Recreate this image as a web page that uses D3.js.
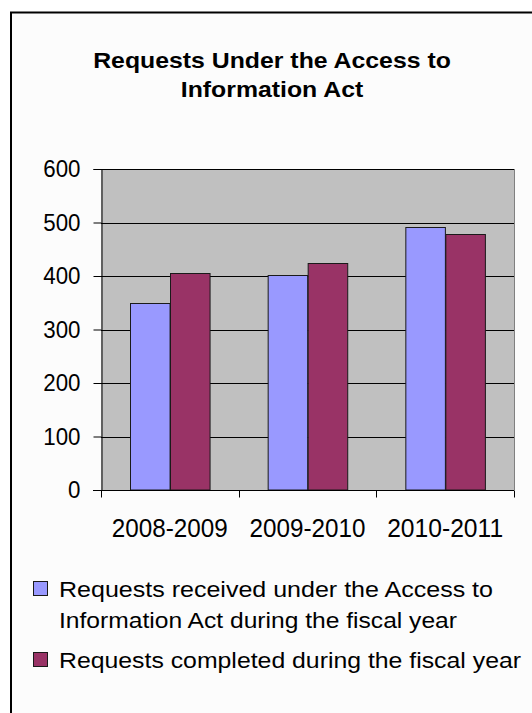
<!DOCTYPE html>
<html><head><meta charset="utf-8">
<script src="https://cdn.jsdelivr.net/npm/d3@7/dist/d3.min.js"></script>
<style>
html,body{margin:0;padding:0;background:#fff;}
svg{display:block;}
text{font-family:"Liberation Sans",Arial,sans-serif;fill:#000;}
</style></head>
<body>
<script>
const categories = ["2008-2009", "2009-2010", "2010-2011"];
const seriesNames = ["Requests received under the Access to Information Act during the fiscal year",
                     "Requests completed during the fiscal year"];
const received = [349, 401, 492];
const completed = [406, 424, 479];
const yTicks = [0, 100, 200, 300, 400, 500, 600];
const titleLines = ["Requests Under the Access to", "Information Act"];
const legendLines = [["Requests received under the Access to", "Information Act during the fiscal year"],
                     ["Requests completed during the fiscal year"]];

const W = 532, H = 713;
const colors = ["#9999ff", "#993366"];
const svg = d3.select("body").append("svg").attr("width", W).attr("height", H);

// chart frame
svg.append("rect").attr("x", 11).attr("y", 12.5).attr("width", 560).attr("height", 760)
  .attr("fill", "#fcfcfc").attr("stroke", "#000").attr("stroke-width", 2);

// title
const titleY = [68, 97];
titleLines.forEach((t, i) => {
  const tx = svg.append("text").attr("x", 272).attr("y", titleY[i]).attr("text-anchor", "middle")
    .attr("font-size", 22).attr("font-weight", "bold").text(t);
  const n = tx.node().getComputedTextLength();
  tx.attr("textLength", n * 1.128).attr("lengthAdjust", "spacingAndGlyphs");
});

const plot = {left: 101, top: 169, right: 514, bottom: 490};
const y = d3.scaleLinear().domain([0, 600]).range([plot.bottom, plot.top]);
const x0 = d3.scaleBand().domain(categories).range([plot.left, plot.right]).padding(0);
const x1 = d3.scaleBand().domain([0, 1]).range([0, x0.bandwidth()]).paddingInner(0).paddingOuter(0.74);

// plot background
svg.append("rect").attr("x", plot.left).attr("y", plot.top)
  .attr("width", plot.right - plot.left).attr("height", plot.bottom - plot.top)
  .attr("fill", "#c0c0c0");
svg.append("line").attr("x1", plot.right + 0.5).attr("x2", plot.right + 0.5)
  .attr("y1", plot.top).attr("y2", plot.bottom).attr("stroke", "#808080");

// gridlines
svg.append("g").selectAll("line").data(yTicks.filter(d => d > 0)).join("line")
  .attr("x1", plot.left).attr("x2", plot.right)
  .attr("y1", d => Math.round(y(d)) + 0.5).attr("y2", d => Math.round(y(d)) + 0.5)
  .attr("stroke", "#000").attr("stroke-width", 1);

// bars
const data = categories.map((c, i) => ({c, vals: [received[i], completed[i]]}));
svg.append("g").selectAll("g").data(data).join("g")
  .attr("transform", d => `translate(${x0(d.c)},0)`)
  .selectAll("rect").data(d => d.vals.map((v, k) => ({k, v}))).join("rect")
  .attr("x", d => Math.round(x1(d.k)) + 0.5)
  .attr("y", d => Math.round(y(d.v)) + 0.5)
  .attr("width", x1.bandwidth())
  .attr("height", d => plot.bottom - Math.round(y(d.v)) - 0.5)
  .attr("fill", d => colors[d.k]).attr("stroke", "#1a1a1a").attr("stroke-width", 1);

// y axis
const yAxis = d3.axisLeft(y).tickValues(yTicks).tickSize(8).tickPadding(13).tickFormat(d3.format("d"));
const yg = svg.append("g").attr("transform", `translate(${plot.left + 0.5},0)`).call(yAxis);
yg.select(".domain").attr("stroke", "#000");
yg.selectAll(".tick line").attr("stroke", "#000");
yg.selectAll("text").attr("font-size", 24).attr("font-family", "Liberation Sans, Arial, sans-serif")
  .each(function() {
    const n = this.getComputedTextLength();
    d3.select(this).attr("textLength", n * 0.93).attr("lengthAdjust", "spacingAndGlyphs");
  });

// x axis
const xg = svg.append("g").attr("transform", `translate(0,${plot.bottom + 0.5})`);
xg.append("line").attr("x1", plot.left - 8).attr("x2", plot.right).attr("stroke", "#000");
const xt = [...categories.map(c => x0(c)), plot.right];
xg.selectAll("line.t").data(xt).join("line").attr("class", "t")
  .attr("x1", d => Math.round(d) + 0.5).attr("x2", d => Math.round(d) + 0.5)
  .attr("y1", 0).attr("y2", 7).attr("stroke", "#000");
xg.selectAll("text").data(categories).join("text")
  .attr("x", d => x0(d) + x0.bandwidth() / 2).attr("y", 46.5)
  .attr("text-anchor", "middle").attr("font-size", 25)
  .attr("textLength", 116).attr("lengthAdjust", "spacingAndGlyphs").text(d => d);

// legend
const legTop = [581, 652];
const legW = [[434, 398], [462]];
legendLines.forEach((lines, i) => {
  svg.append("rect").attr("x", 33.5).attr("y", legTop[i] + 0.5).attr("width", 14).attr("height", 14)
    .attr("fill", colors[i]).attr("stroke", "#1a1a1a");
  lines.forEach((l, j) => {
    svg.append("text").attr("x", 59).attr("y", legTop[i] + 16 + j * 31)
      .attr("font-size", 22).attr("textLength", legW[i][j]).attr("lengthAdjust", "spacingAndGlyphs")
      .text(l);
  });
});
</script>
</body></html>
